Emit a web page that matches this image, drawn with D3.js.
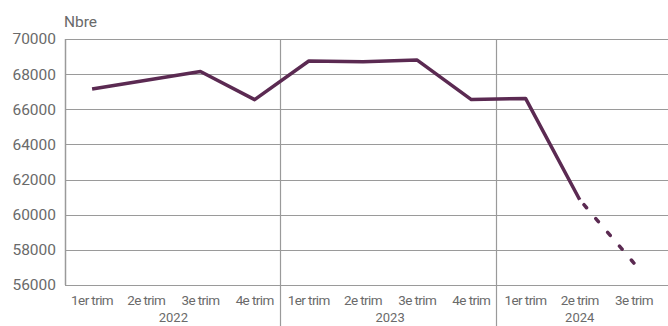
<!DOCTYPE html>
<html>
<head>
<meta charset="utf-8">
<script src="https://cdn.jsdelivr.net/npm/d3@7"></script>
<style>
  html, body { margin: 0; padding: 0; background: #fff; }
  svg { display: block; font-family: Roboto, "Liberation Sans", sans-serif; }
</style>
</head>
<body>
<div id="chart"></div>
<script>
// Quarterly counts (Nbre), 2022 to 2024 Q3; last quarter is provisional (dashed)
const years = ["2022", "2023", "2024"];
const periods = [
  { year: "2022", q: "1er trim" }, { year: "2022", q: "2e trim" }, { year: "2022", q: "3e trim" }, { year: "2022", q: "4e trim" },
  { year: "2023", q: "1er trim" }, { year: "2023", q: "2e trim" }, { year: "2023", q: "3e trim" }, { year: "2023", q: "4e trim" },
  { year: "2024", q: "1er trim" }, { year: "2024", q: "2e trim" }, { year: "2024", q: "3e trim" },
];
const values = [67150, 67650, 68150, 66550, 68750, 68700, 68800, 66550, 66620, 60850, 57250];
const provisionalFrom = 9; // index where the dashed part starts
const yTicks = [56000, 58000, 60000, 62000, 64000, 66000, 68000, 70000];

const width = 668, height = 326;
const margin = { top: 39, right: 7, bottom: 41, left: 65 };
const color = "#5b2a52";
const grid = "#9a9a9a";
const textColor = "#6a6a6a";

const svg = d3.select("#chart").append("svg")
  .attr("width", width).attr("height", height);

const ids = periods.map((p, i) => i);
const x = d3.scaleBand().domain(ids).range([margin.left, width - margin.right]);
const y = d3.scaleLinear().domain([56000, 70000]).range([height - margin.bottom, margin.top]);

// horizontal gridlines
svg.append("g").selectAll("line").data(yTicks).join("line")
  .attr("x1", margin.left).attr("x2", width)
  .attr("y1", d => Math.round(y(d)) + 0.5).attr("y2", d => Math.round(y(d)) + 0.5)
  .attr("stroke", grid).attr("stroke-width", 1.2);

// y axis labels
svg.append("g").selectAll("text").data(yTicks).join("text")
  .attr("x", 56).attr("y", d => y(d))
  .attr("dy", "0.35em")
  .attr("text-anchor", "end")
  .attr("font-size", 15.5)
  .attr("fill", textColor)
  .text(d => d);

// left axis line
svg.append("line")
  .attr("x1", margin.left + 0.5).attr("x2", margin.left + 0.5)
  .attr("y1", y(70000)).attr("y2", y(56000))
  .attr("stroke", grid).attr("stroke-width", 1.5);

// year separators
const yearStarts = years.slice(1).map(yr => periods.findIndex(p => p.year === yr));
svg.append("g").selectAll("line").data(yearStarts).join("line")
  .attr("x1", d => Math.round(x(d)) - 1.5).attr("x2", d => Math.round(x(d)) - 1.5)
  .attr("y1", y(70000)).attr("y2", height)
  .attr("stroke", grid).attr("stroke-width", 1.2);

// quarter labels
svg.append("g").selectAll("text").data(ids).join("text")
  .attr("x", d => x(d) + x.bandwidth() / 2)
  .attr("y", 305)
  .attr("text-anchor", "middle")
  .attr("font-size", 13.5)
  .attr("letter-spacing", -0.6)
  .attr("fill", textColor)
  .text(d => periods[d].q);

// year labels
svg.append("g").selectAll("text").data(years).join("text")
  .attr("x", yr => {
    const idx = ids.filter(i => periods[i].year === yr);
    return (x(idx[0]) + x(idx[idx.length - 1]) + x.bandwidth()) / 2;
  })
  .attr("y", 322)
  .attr("text-anchor", "middle")
  .attr("font-size", 13)
  .attr("fill", textColor)
  .text(d => d);

// unit label
svg.append("text")
  .attr("x", 64).attr("y", 27)
  .attr("font-size", 15.5)
  .attr("fill", textColor)
  .text("Nbre");

// line
const line = d3.line()
  .x(d => x(d.i) + x.bandwidth() / 2)
  .y(d => y(d.v));
const pts = values.map((v, i) => ({ i, v }));

svg.append("path")
  .datum(pts.slice(0, provisionalFrom + 1))
  .attr("d", line)
  .attr("fill", "none")
  .attr("stroke", color)
  .attr("stroke-width", 3.5)
  .attr("stroke-linejoin", "round");

const dashed = svg.append("path")
  .datum(pts.slice(provisionalFrom))
  .attr("d", line)
  .attr("fill", "none")
  .attr("stroke", color)
  .attr("stroke-width", 3.5)
  .attr("stroke-linecap", "round");

// five short dashes, the last one ending on the final point
const L = dashed.node().getTotalLength();
const dash = 4, first = 6.5;
const period = (L - dash - first) / 4;
dashed.attr("stroke-dasharray", `${dash},${period - dash}`)
  .attr("stroke-dashoffset", period - first);
</script>
</body>
</html>
